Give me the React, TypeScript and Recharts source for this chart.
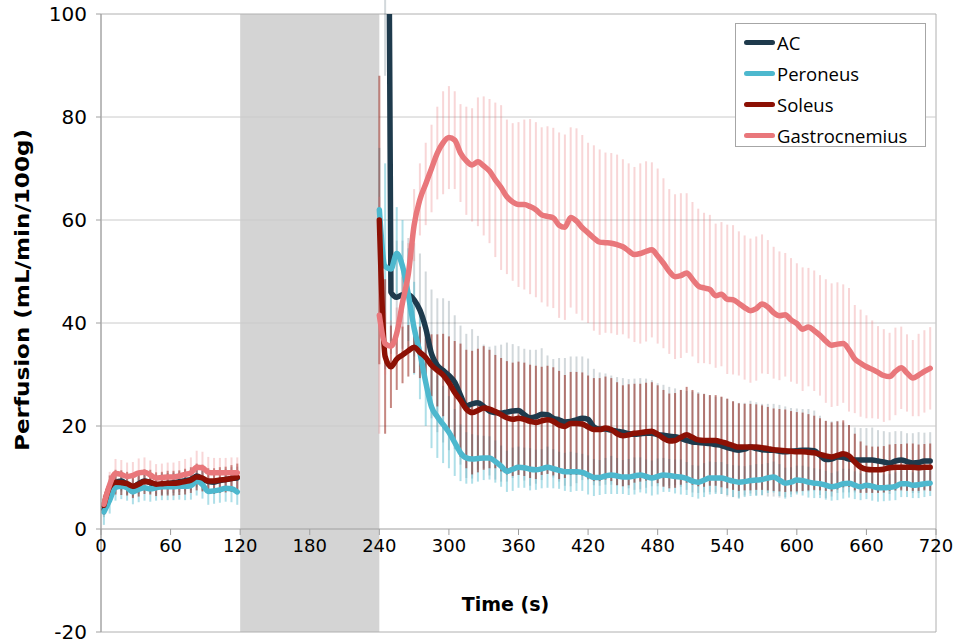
import { LineChart, Line, XAxis, YAxis, ErrorBar, ReferenceArea, ReferenceLine, Legend } from 'recharts'

// baseline period (before occlusion)
const baseTimes = [
  2.5, 7.5, 12.5, 17.5, 22.5, 27.5, 32.5, 37.5, 42.5, 47.5, 52.5, 57.5,
  62.5, 67.5, 72.5, 77.5, 82.5, 87.5, 92.5, 97.5, 102.5, 107.5, 112.5, 117.5,
]
const acBase = [3.8, 7.5, 9.0, 9.3, 8.7, 8.2, 8.8, 9.3, 9.0, 8.6, 8.6, 8.8, 9.0, 9.2, 9.4, 9.6, 10.3, 9.7, 9.2, 9.1, 9.4, 9.6, 9.8, 9.9]
const acBaseErr = [1.5, 1.8, 2.0, 2.0, 2.0, 1.9, 2.0, 2.0, 2.0, 1.9, 1.9, 2.0, 2.0, 2.0, 2.1, 2.1, 2.2, 2.2, 2.1, 2.1, 2.1, 2.1, 2.2, 2.2]
const peroneusBase = [3.3, 5.6, 8.1, 8.3, 8.0, 7.2, 7.7, 8.0, 7.8, 8.0, 8.2, 8.2, 8.2, 8.3, 8.3, 8.4, 9.3, 8.6, 7.3, 7.4, 7.6, 7.9, 7.8, 7.2]
const peroneusBaseErr = [2.5, 2.6, 2.6, 2.5, 2.5, 2.4, 2.5, 2.5, 2.5, 2.5, 2.6, 2.6, 2.6, 2.6, 2.7, 2.7, 2.8, 2.7, 2.6, 2.5, 2.5, 2.6, 2.6, 2.5]
const soleusBase = [4.6, 8.2, 9.1, 9.0, 8.8, 8.3, 8.7, 9.2, 9.1, 8.7, 8.8, 8.9, 8.9, 9.0, 9.2, 9.5, 10.1, 9.9, 9.3, 9.3, 9.5, 9.6, 9.8, 10.1]
const soleusBaseErr = [1.8, 2.2, 2.4, 2.4, 2.3, 2.3, 2.4, 2.4, 2.4, 2.3, 2.3, 2.4, 2.4, 2.4, 2.5, 2.5, 2.6, 2.6, 2.5, 2.5, 2.5, 2.5, 2.6, 2.6]
const gastroBase = [4.8, 8.6, 10.8, 10.6, 10.2, 10.4, 10.9, 11.0, 10.5, 9.9, 10.0, 10.1, 10.1, 10.3, 10.6, 10.9, 12.0, 11.9, 11.0, 10.9, 10.9, 10.9, 10.9, 10.9]
const gastroBaseErr = [2.0, 2.5, 2.8, 2.8, 2.7, 2.6, 2.8, 2.9, 2.8, 2.7, 2.7, 2.8, 2.8, 2.9, 3.0, 3.0, 3.2, 3.1, 3.0, 2.9, 2.9, 2.9, 3.0, 3.0]

// recovery period (after release)
const recTimes = [
  240, 245, 250, 255, 260, 265, 270, 275, 280, 285,
  290, 295, 300, 305, 310, 315, 320, 325, 330, 335,
  340, 345, 350, 355, 360, 365, 370, 375, 380, 385,
  390, 395, 400, 405, 410, 415, 420, 425, 430, 435,
  440, 445, 450, 455, 460, 465, 470, 475, 480, 485,
  490, 495, 500, 505, 510, 515, 520, 525, 530, 535,
  540, 545, 550, 555, 560, 565, 570, 575, 580, 585,
  590, 595, 600, 605, 610, 615, 620, 625, 630, 635,
  640, 645, 650, 655, 660, 665, 670, 675, 680, 685,
  690, 695, 700, 705, 710, 715,
]
const acRec = [
  250, 250, 46, 45, 45.5, 45.5, 44.5, 42.5, 39, 34,
  31.8, 30.8, 29.8, 28.5, 26, 23.9, 24.3, 24.5, 23.8, 22.9,
  22.6, 22.5, 22.7, 22.9, 23, 22.2, 21.6, 21.8, 22.3, 22.2,
  21.5, 21.2, 20.8, 20.9, 21.2, 21.5, 21.3, 19.8, 19.4, 19.4,
  19.2, 19, 18.8, 18.5, 18.4, 18.5, 18.6, 18.6, 18.3, 18.2,
  18, 17.9, 17.6, 17.2, 16.9, 16.8, 16.7, 16.6, 16.4, 16.2,
  15.8, 15.5, 15.3, 15.5, 15.9, 15.6, 15.4, 15.3, 15.3, 15.1,
  15, 15.1, 15.2, 15.3, 15.3, 15.2, 14.3, 13.5, 13.6, 14,
  13.9, 13.6, 13.4, 13.4, 13.4, 13.4, 13.2, 13, 12.8, 13.2,
  13.4, 13.1, 12.8, 12.9, 13.2, 13.2,
]
const acRecErr = [
  130, 162, 12, 11, 10.5, 11, 11, 11, 11, 12.5,
  13, 14, 14.5, 13, 13.5, 14, 14.5, 13, 12, 12.5,
  13, 13.3, 13.5, 13, 12.5, 12.8, 13.2, 13, 12.8, 11.5,
  11.5, 12, 12.4, 12.6, 12.3, 12, 11.8, 11.3, 11, 10.8,
  10.6, 10.5, 10.5, 10.6, 10.8, 10.8, 10.6, 10.3, 10, 9.8,
  9.6, 9.4, 9.4, 9.6, 9.8, 9.8, 9.6, 9.4, 9.3, 9.4,
  9.5, 9.3, 9.2, 9, 9, 9, 8.9, 9, 9, 9,
  8.8, 8.4, 8.2, 8, 8, 7.8, 7.7, 7.5, 7.3, 7,
  6.8, 6.5, 6.3, 6.2, 6.2, 6.3, 6, 6, 6, 5.8,
  5.6, 5.5, 5.8, 5.9, 5.5, 5.6,
]
const peroneusRec = [
  62, 51, 50.5, 53.5, 51, 45.5, 39, 34.2, 28.5, 23.7,
  21.8, 20.3, 18.8, 16.8, 14.8, 13.8, 13.6, 13.7, 13.8, 13.8,
  13.1, 12.2, 11.2, 11.6, 12, 11.9, 11.6, 11.5, 11.7, 12,
  11.7, 11.4, 11.1, 11.1, 11.1, 11, 10.5, 10, 10, 10.3,
  10.5, 10.3, 10.1, 10.1, 10.3, 10.5, 10.2, 9.9, 10.2, 10.5,
  10.4, 10.2, 10.1, 9.8, 9.3, 9.1, 9.5, 9.9, 9.9, 9.9,
  9.6, 9.3, 9.1, 9.2, 9.4, 9.5, 9.6, 9.9, 10.1, 9.5,
  8.9, 9.1, 9.5, 9.4, 9.1, 8.9, 8.8, 8.5, 8.2, 8.4,
  8.8, 8.9, 8.5, 8.2, 8.5, 8.3, 8, 8, 8.1, 8.3,
  8.8, 8.8, 8.5, 8.6, 8.8, 8.9,
]
const peroneusRecErr = [
  12, 20, 14, 9, 9, 9, 9, 9, 8.5, 8,
  8, 7.5, 7, 6.5, 5.5, 5, 4.8, 4.5, 4.3, 4.2,
  4.1, 4, 4, 4.2, 4, 3.9, 4.1, 3.9, 3.8, 4,
  3.8, 3.6, 3.7, 3.9, 3.7, 3.6, 3.8, 3.6, 3.4, 3.5,
  3.7, 3.5, 3.3, 3.5, 3.6, 3.4, 3.3, 3.4, 3.5, 3.3,
  3.2, 3.3, 3.4, 3.2, 3.1, 3.2, 3.3, 3.2, 3.1, 3.1,
  3, 3.1, 3.2, 3, 3, 3.1, 3, 2.9, 3, 3.1,
  3, 2.9, 2.8, 2.9, 3, 2.9, 2.8, 2.8, 2.7, 2.8,
  2.9, 2.8, 2.7, 2.6, 2.7, 2.8, 2.7, 2.6, 2.6, 2.7,
  2.6, 2.6, 2.5, 2.6, 2.6, 2.5,
]
const soleusRec = [
  60, 33.5, 31.5, 33, 33.8, 34.6, 35.3, 34.3, 33.3, 31.8,
  30.8, 29.9, 28.4, 26.5, 25, 23.3, 22.6, 23, 23.5, 23.3,
  22.8, 22.2, 21.6, 21.3, 21.5, 21.3, 20.9, 20.7, 21, 21.2,
  20.9, 20.2, 19.9, 20.5, 20.5, 20.4, 19.8, 19.3, 19.3, 19.6,
  19.3, 18.5, 18.1, 18.3, 18.6, 18.7, 18.9, 19, 18.4, 17.6,
  17.1, 17.2, 17.8, 18.3, 17.8, 17.3, 17.2, 17.2, 17.2, 16.9,
  16.6, 16.2, 15.9, 15.9, 15.9, 15.9, 15.8, 15.6, 15.4, 15.3,
  15.2, 15.1, 15, 15, 14.9, 14.8, 14.5, 14.2, 14, 14.3,
  14.6, 14.2, 13, 12, 11.6, 11.5, 11.5, 11.6, 11.9, 12,
  12, 12, 12, 11.9, 12, 12,
]
const soleusRecErr = [
  28, 15, 8, 6, 5.5, 5, 5, 5, 5.5, 6,
  7, 8, 9, 10, 11, 11.5, 12, 12, 12, 11.5,
  11, 11, 11, 11, 11, 11, 11, 11, 10.5, 10.5,
  10.5, 10.5, 10, 10, 10, 10, 10, 10, 10, 10,
  10, 10, 9.8, 9.8, 9.6, 9.5, 9.5, 9.5, 9.5, 9.4,
  9.2, 9.2, 9.2, 9.3, 9.2, 9, 9, 8.8, 8.8, 8.8,
  8.7, 8.6, 8.5, 8.4, 8.4, 8.3, 8.2, 8.1, 8, 8,
  8, 7.8, 7.7, 7.6, 7.4, 7.2, 7, 6.8, 6.7, 6.6,
  6.5, 6, 5.5, 5, 4.6, 4.5, 4.5, 4.5, 4.5, 4.5,
  4.5, 4.6, 4.6, 4.5, 4.5, 4.6,
]
const gastroRec = [
  41.5, 36, 35.5, 38, 44, 49.5, 59, 64, 67, 70,
  73, 75, 76, 75.5, 73, 71.5, 70.7, 71.3, 70.5, 69.5,
  67.8, 66.3, 64.5, 63.5, 63, 63, 62.6, 62, 61, 60.7,
  60.4, 59, 58.6, 60.5, 59.8, 58.5, 57.5, 56.5, 55.7, 55.6,
  55.5, 55.2, 54.8, 54, 53.3, 53.5, 53.9, 54.2, 53, 51.6,
  50, 49, 49.2, 49.7, 48.5, 47.2, 46.8, 46.5, 45.3, 45.6,
  44.6, 44.5, 43.8, 43, 42.4, 42.8, 43.7, 43.1, 42, 41.4,
  41.6, 40.6, 39.9, 38.8, 39.2, 38.5, 37.6, 36.5, 35.7, 35.9,
  36, 34.8, 33, 32.2, 31.5, 31, 30.4, 29.8, 29.6, 30.6,
  31.3, 30.3, 29.3, 29.9, 30.6, 31.2,
]
const gastroRecErr = [
  23, 6, 5, 5, 5, 6, 7, 7, 8, 8.5,
  9, 10, 10, 9.5, 9.5, 10.5, 11, 12.5, 13.5, 14,
  15, 16, 15, 15.3, 16, 16.5, 17, 17, 17, 17.5,
  17.5, 18, 18, 17.5, 18, 18, 17.5, 18, 18, 17.5,
  17.5, 17.5, 17, 17, 17, 17.5, 17.5, 17, 17, 16.5,
  16, 16, 16, 15.5, 15, 15, 14.6, 14.5, 14, 14,
  14.5, 14.5, 14, 14, 14, 14, 13.5, 13, 12.8, 12.5,
  12, 12, 11.7, 12, 11.5, 11.7, 11.7, 12, 12, 12,
  11.5, 12, 10.5, 10.4, 10, 9.5, 9, 9, 8.5, 8.5,
  8, 7.5, 7.4, 8, 8, 8,
]

const xTicks = [0, 60, 120, 180, 240, 300, 360, 420, 480, 540, 600, 660, 720]
const yTicks = [-20, 0, 20, 40, 60, 80, 100]
const gridValues = [20, 40, 60, 80]

const series = [
  { key: 'ac', name: 'AC', color: '#1E3A4C', err: 'rgba(31,59,77,0.2)' },
  { key: 'peroneus', name: 'Peroneus', color: '#4DB8CE', err: 'rgba(75,183,205,0.45)' },
  { key: 'soleus', name: 'Soleus', color: '#8C1004', err: 'rgba(142,16,4,0.5)' },
  { key: 'gastro', name: 'Gastrocnemius', color: '#E9777B', err: 'rgba(233,119,123,0.3)' },
]

const baseRows = baseTimes.map((t, i) => ({
  t,
  ac: acBase[i], acErr: acBaseErr[i],
  peroneus: peroneusBase[i], peroneusErr: peroneusBaseErr[i],
  soleus: soleusBase[i], soleusErr: soleusBaseErr[i],
  gastro: gastroBase[i], gastroErr: gastroBaseErr[i],
}))

const recRows = recTimes.map((t, i) => ({
  t,
  ac: acRec[i], acErr: acRecErr[i],
  peroneus: peroneusRec[i], peroneusErr: peroneusRecErr[i],
  soleus: soleusRec[i], soleusErr: soleusRecErr[i],
  gastro: gastroRec[i], gastroErr: gastroRecErr[i],
}))

const W = 961
const H = 643
const margin = { top: 14, right: 25, bottom: 0, left: 0 }
const xAxisHeight = 11
const yMin = -20
const yMax = 100
const plotH = H - margin.top - margin.bottom - xAxisHeight
// pixel row of y = 0, where the x axis sits
const zeroY = margin.top + (plotH * (yMax - 0)) / (yMax - yMin)

const font = 'DejaVu Sans, sans-serif'
const axisColor = '#a0a0a0'

const XTick = (props: any) => {
  const { x, payload } = props
  return (
    <g>
      <line x1={x} x2={x} y1={zeroY} y2={zeroY + 6} stroke={axisColor} />
      <text x={x} y={zeroY + 23} textAnchor="middle" fontSize={18} fontFamily={font} fill="#000">
        {payload.value}
      </text>
    </g>
  )
}

const TimeLabel = (props: any) => {
  const vb = props.viewBox
  return (
    <text x={vb.x + vb.width / 2 - 13} y={zeroY + 82} textAnchor="middle" fontSize={19} fontWeight="bold" fontFamily={font} fill="#000">
      Time (s)
    </text>
  )
}

const PerfusionLabel = (props: any) => {
  const vb = props.viewBox
  const cx = 22
  const cy = vb.y + vb.height / 2 - 33
  return (
    <text
      x={cx}
      y={cy}
      transform={`rotate(-90 ${cx} ${cy})`}
      textAnchor="middle"
      dominantBaseline="central"
      fontSize={20}
      fontWeight="bold"
      fontFamily={font}
      fill="#000"
      textLength={322}
      lengthAdjust="spacingAndGlyphs"
    >
      Perfusion (mL/min/100g)
    </text>
  )
}

const LegendBox = () => (
  <div
    style={{
      width: 191,
      height: 124,
      boxSizing: 'border-box',
      border: '1px solid #a6a6a6',
      background: '#fff',
      paddingTop: 3,
      fontFamily: '"Open Sans", sans-serif',
      fontSize: 18.5,
      color: '#000',
    }}
  >
    {series.map((s) => (
      <div key={s.key} style={{ display: 'flex', alignItems: 'center', height: 31 }}>
        <div style={{ marginLeft: 8, width: 31, height: 5, borderRadius: 3, background: s.color }} />
        <span style={{ marginLeft: 2, lineHeight: '20px' }}>{s.name}</span>
      </div>
    ))}
  </div>
)

export default function App() {
  return (
    <div style={{ position: 'absolute', left: 0, top: 0, width: W, height: H, background: '#fff' }}>
      <LineChart width={W} height={H} margin={margin}>
        <XAxis
          type="number"
          dataKey="t"
          domain={[0, 720]}
          ticks={xTicks}
          interval={0}
          height={xAxisHeight}
          axisLine={false}
          tickLine={false}
          tick={XTick}
          label={TimeLabel}
        />
        <YAxis
          type="number"
          domain={[yMin, yMax]}
          ticks={yTicks}
          interval={0}
          allowDataOverflow
          width={101}
          tickSize={5}
          tickMargin={9}
          axisLine={{ stroke: axisColor }}
          tickLine={{ stroke: axisColor }}
          tick={{ fontSize: 20, fill: '#000', fontFamily: font }}
          label={PerfusionLabel}
        />
        <ReferenceArea x1={120} x2={240} fill="#d4d4d4" fillOpacity={1} stroke="none" />
        {gridValues.map((v) => (
          <ReferenceLine key={v} y={v} stroke="#cacaca" />
        ))}
        <ReferenceLine y={0} stroke={axisColor} />
        <ReferenceArea x1={0} x2={720} y1={yMin} y2={yMax} fill="none" stroke="#b0b0b0" />

        {/* error bars first so every curve sits on top */}
        {series.map((s) =>
          [baseRows, recRows].map((rows, j) => (
            <Line
              key={`${s.key}-err-${j}`}
              data={rows}
              dataKey={s.key}
              stroke="none"
              dot={false}
              activeDot={false}
              legendType="none"
              isAnimationActive={false}
            >
              <ErrorBar dataKey={`${s.key}Err`} width={0} strokeWidth={2} stroke={s.err} direction="y" isAnimationActive={false} />
            </Line>
          ))
        )}

        {series.map((s) =>
          [baseRows, recRows].map((rows, j) => (
            <Line
              key={`${s.key}-line-${j}`}
              data={rows}
              dataKey={s.key}
              name={s.name}
              type="monotone"
              stroke={s.color}
              strokeWidth={5.5}
              strokeLinecap="round"
              strokeLinejoin="round"
              dot={false}
              activeDot={false}
              isAnimationActive={false}
            />
          ))
        )}

        <Legend
          layout="vertical"
          align="center"
          verticalAlign="middle"
          content={LegendBox}
          wrapperStyle={{ top: 23, left: 735, width: 191, height: 124 }}
        />
      </LineChart>
    </div>
  )
}
